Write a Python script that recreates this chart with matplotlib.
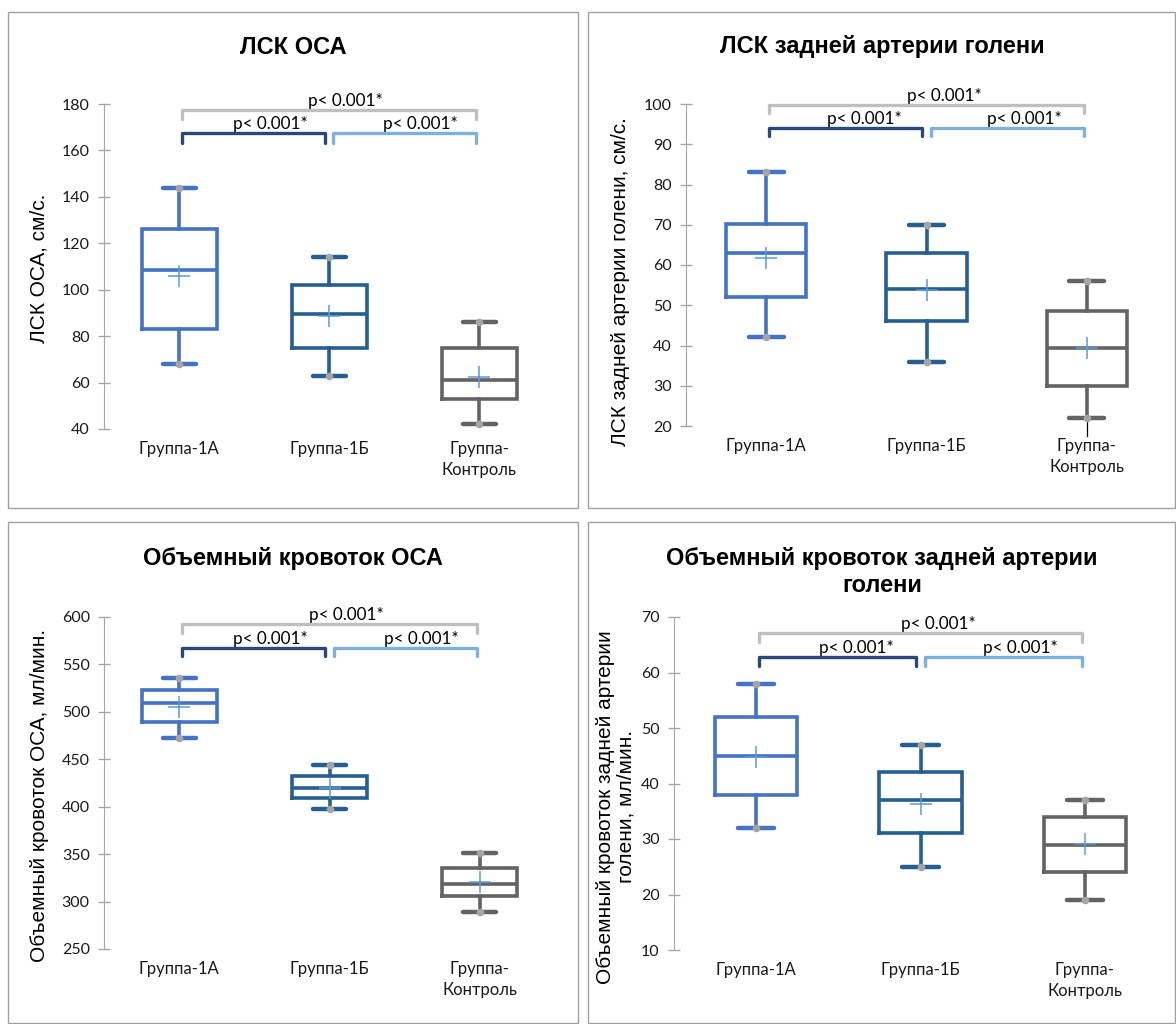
import matplotlib
matplotlib.use("Agg")
import matplotlib.pyplot as plt
from matplotlib.patches import Rectangle

plt.rcParams['font.family'] = ['Lato', 'DejaVu Sans']

# --------------------- data ---------------------
GROUPS = ["Группа-1А", "Группа-1Б", "Группа-\nКонтроль"]
P_TEXT = "p< 0.001*"

# five-number summaries per group: (whisker low, Q1, median, Q3, whisker high), plus mean
lsk_osa = [(68, 83, 108.4, 126, 144), (63, 75, 89.5, 102, 114), (42, 52.8, 61, 74.8, 86)]
lsk_osa_mean = [105.9, 88.6, 62.3]

lsk_leg = [(42, 52, 63, 70.2, 83), (36, 46, 54, 63, 70), (22, 30, 39.5, 48.6, 56)]
lsk_leg_mean = [61.8, 53.8, 39.4]

flow_osa = [(472.4, 489.3, 509, 523, 535.7), (397.6, 409, 419.7, 432.4, 444), (289, 306, 318.5, 335, 351)]
flow_osa_mean = [505, 420, 320.7]

flow_leg = [(32, 38, 45, 52, 58), (25, 31, 37, 42, 47), (19, 24, 29, 34, 37)]
flow_leg_mean = [44.8, 36.3, 29.1]

# --------------------- styling ---------------------
W, H = 1176, 1024
BOX_COLORS = ["#4472C4", "#255E91", "#636363"]
DOT_COLOR = "#A5A5A5"
MEAN_COLOR = "#5B9BD5"
BR_GRAY = "#BFBFBF"
BR_DARK = "#2B4778"
BR_LIGHT = "#7DAFDF"
AXIS_COLOR = "#A6A6A6"
TEXT_COLOR = "#1A1A1A"

fig = plt.figure(figsize=(W / 100, H / 100), dpi=100)


def px_rect(x0, y0, x1, y1):
    return [x0 / W, 1 - y1 / H, (x1 - x0) / W, (y1 - y0) / H]


def frame(x0, y0, x1, y1):
    fig.add_artist(Rectangle((x0 / W, 1 - y1 / H), (x1 - x0) / W, (y1 - y0) / H,
                             transform=fig.transFigure, fill=False,
                             ec="#A0A0A0", lw=1.0))


def bracket(ax, x0, x1, y, tip, color):
    ax.plot([x0, x0, x1, x1], [tip, y, y, tip], color=color, lw=2.4,
            solid_joinstyle="round", solid_capstyle="round", clip_on=False, zorder=4)


def panel(rect, summary, means, ylim, yticks, ylabel, label_xy, br):
    ax = fig.add_axes(px_rect(*rect))
    stats = []
    for (lo, q1, med, q3, hi), mn in zip(summary, means):
        stats.append(dict(whislo=lo, q1=q1, med=med, q3=q3, whishi=hi, mean=mn, fliers=[]))
    pos = [1, 2, 3]
    art = ax.bxp(stats, positions=pos, widths=0.5, capwidths=0.22, showmeans=True,
                 showfliers=False, manage_ticks=False)
    for i, c in enumerate(BOX_COLORS):
        art["boxes"][i].set(color=c, lw=2.6, solid_joinstyle="miter")
        art["medians"][i].set(color=c, lw=2.6)
        for w in art["whiskers"][2 * i:2 * i + 2]:
            w.set(color=c, lw=2.6)
        for cp in art["caps"][2 * i:2 * i + 2]:
            cp.set(color=c, lw=3.2, solid_capstyle="round")
        art["means"][i].set(marker="+", markersize=16, markeredgewidth=1.1,
                            markeredgecolor=MEAN_COLOR, zorder=5)
    lows = [s[0] for s in summary]
    highs = [s[4] for s in summary]
    ax.scatter(pos + pos, lows + highs, s=30, color=DOT_COLOR, zorder=6, lw=0)

    ax.set_xlim(0.5, 3.5)
    ax.set_ylim(*ylim)
    ax.set_yticks(yticks)
    ax.set_xticks(pos)
    ax.set_xticklabels(GROUPS, linespacing=1.4)
    for s in ["top", "right", "bottom"]:
        ax.spines[s].set_visible(False)
    ax.spines["left"].set_color(AXIS_COLOR)
    ax.tick_params(axis="y", direction="inout", length=8.5, width=1, color=AXIS_COLOR,
                   labelsize=11.5, labelcolor=TEXT_COLOR, pad=6)
    ax.tick_params(axis="x", length=0, labelsize=12, labelcolor=TEXT_COLOR, pad=8.5)
    ax.set_ylabel(ylabel, fontsize=15, family="Liberation Sans", color="black",
                  linespacing=1.1)
    ax.yaxis.label.set_va("center")
    ax.yaxis.set_label_coords(*label_xy)

    g_y, g_tip, p_y, p_tip = br
    bracket(ax, 1.02, 2.98, g_y, g_tip, BR_GRAY)
    bracket(ax, 1.02, 1.97, p_y, p_tip, BR_DARK)
    bracket(ax, 2.03, 2.98, p_y, p_tip, BR_LIGHT)
    span = ylim[1] - ylim[0]
    off = span * 0.004
    for x, y in [(2.11, g_y), (1.61, p_y), (2.61, p_y)]:
        ax.text(x, y + off, P_TEXT, ha="center", va="bottom", fontsize=12.3,
                color="black", clip_on=False)
    return ax


# panel frames
frame(8, 12, 578, 508)
frame(588, 12, 1175, 508)
frame(8, 522, 578, 1023)
frame(588, 522, 1175, 1023)

title_kw = dict(ha="center", va="center", fontsize=17, fontweight="bold",
                family="Liberation Sans", color="black")
fig.text(293 / W, 1 - 47 / H, "ЛСК ОСА", **title_kw)
fig.text(882 / W, 1 - 47 / H, "ЛСК задней артерии голени", **title_kw)
fig.text(293 / W, 1 - 558 / H, "Объемный кровоток ОСА", **title_kw)
fig.text(882 / W, 1 - 572 / H, "Объемный кровоток задней артерии\nголени",
         linespacing=1.2, **title_kw)

panel((104, 104, 554, 429), lsk_osa, lsk_osa_mean, (40, 180), range(40, 181, 20),
      "ЛСК ОСА, см/с.", (-0.144, 0.495), (177.4, 173.5, 167.3, 163.2))

ax2 = panel((686, 104, 1167, 426), lsk_leg, lsk_leg_mean, (20, 100), range(20, 101, 10),
            "ЛСК задней артерии голени, см/с.", (-0.137, 0.45), (99.8, 97.8, 94, 92))
# short black leader line under the control whisker
ax2.plot([3, 3], [22.8, 17.4], color="black", lw=0.9, clip_on=False, zorder=3)

panel((104, 617, 555, 949), flow_osa, flow_osa_mean, (250, 600), range(250, 601, 50),
      "Объемный кровоток ОСА, мл/мин.", (-0.144, 0.464), (592.6, 583.5, 567.3, 558.5))

panel((674, 617, 1167, 950), flow_leg, flow_leg_mean, (10, 70), range(10, 71, 10),
      "Объемный кровоток задней артерии\nголени, мл/мин.", (-0.118, 0.43),
      (67.1, 65.5, 62.8, 61.2))

fig.savefig("out.png", dpi=100, facecolor="white")
